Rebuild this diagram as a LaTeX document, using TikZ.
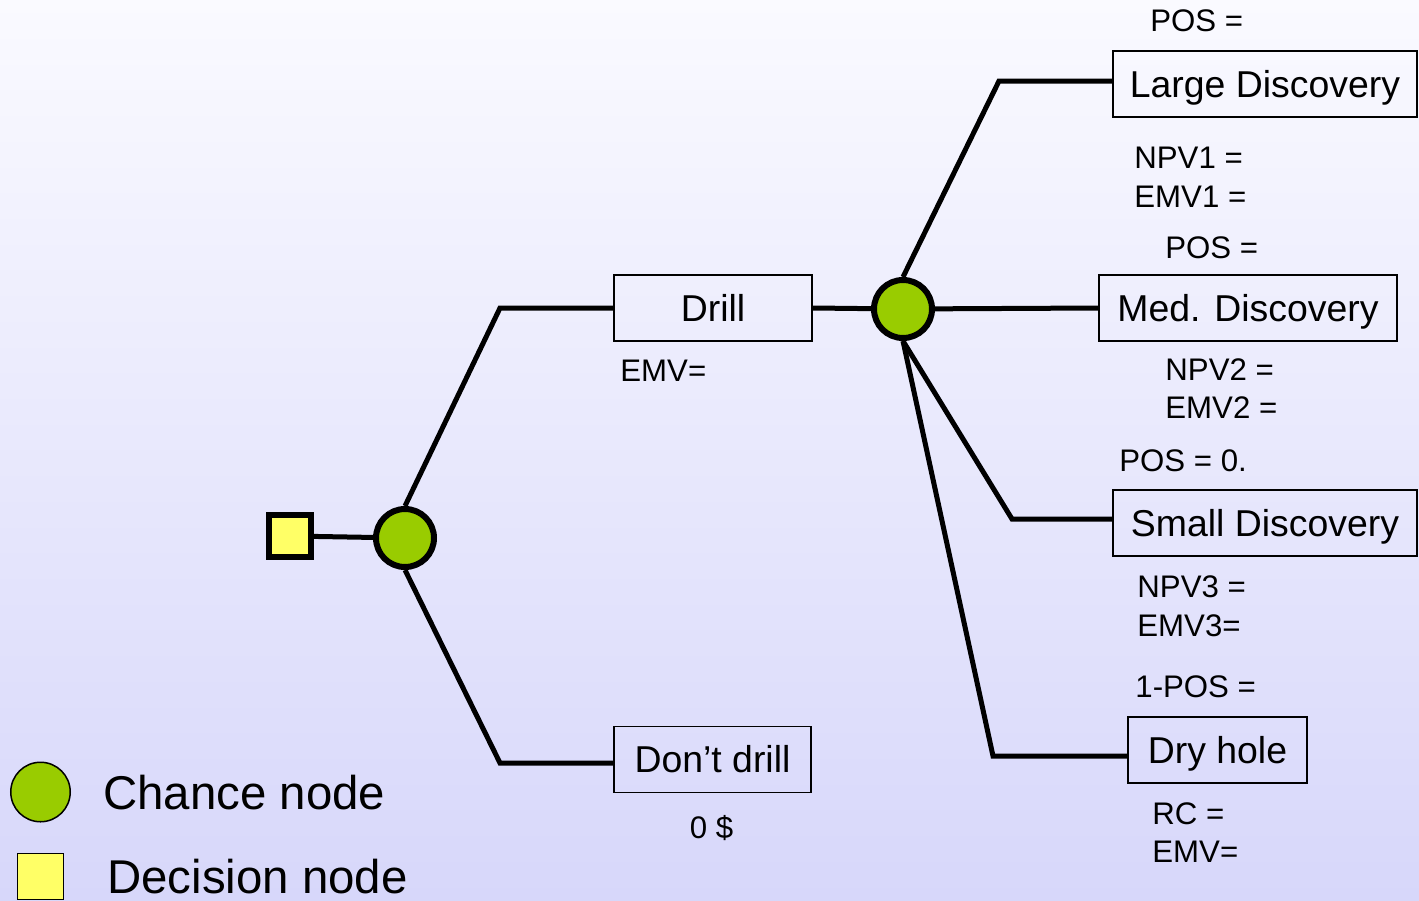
\documentclass[tikz,border=0pt]{standalone}
\usepackage{fontspec}
\setmainfont{Liberation Sans}
\definecolor{chancegreen}{HTML}{99CC00}
\definecolor{decyellow}{HTML}{FFFF66}
\definecolor{bgtop}{RGB}{250,250,255}
\definecolor{bgbottom}{RGB}{215,215,250}
\begin{document}
\begin{tikzpicture}[x=0.5pt,y=-0.5pt,
  branch/.style={line width=2.5pt},
  chance/.style={circle, draw, line width=3pt, fill=chancegreen, minimum size=29pt, inner sep=0pt},
  decision/.style={rectangle, draw, line width=3pt, fill=decyellow, minimum size=21pt, inner sep=0pt},
  outcome/.style={rectangle, draw, line width=0.75pt, minimum height=33pt, inner sep=0pt,
    font=\fontsize{18.7}{20}\selectfont, text height=13.4pt, text depth=0pt},
  val/.style={anchor=west, inner sep=0pt, font=\fontsize{15.6}{18}\selectfont,
    text height=11.2pt, text depth=0pt},
  legendtext/.style={anchor=west, inner sep=0pt, font=\fontsize{23.7}{26}\selectfont,
    text height=17pt, text depth=0pt},
]
% background
\shade[top color=bgtop, bottom color=bgbottom] (0pt,0pt) rectangle (709.5pt,-450pt);
\useasboundingbox (0,0) rectangle (1419,900);

% decision and chance nodes
\node[decision] (d0) at (290,536) {};
\node[chance] (c1) at (405,538) {};
\node[chance] (c2) at (903,309) {};

% alternative boxes
\node[outcome, minimum width=99pt] (drill) at (713,308) {Drill};
\node[outcome, minimum width=98.5pt] (nodrill) at (712.5,759.5) {Don’t drill};

% outcome boxes
\node[outcome, minimum width=152pt] (large) at (1265,84) {Large Discovery};
\node[outcome, minimum width=149pt] (med) at (1248,308) {Med. Discovery};
\node[outcome, minimum width=152pt] (small) at (1265,523) {Small Discovery};
\node[outcome, minimum width=89.5pt] (dry) at (1217.5,750) {Dry hole};

% bend points of the branches
\coordinate (kd) at (500,308);
\coordinate (kn) at (500,763);
\coordinate (kl) at (999,81);
\coordinate (ks) at (1012,519);
\coordinate (kh) at (993,756);

% branches
\draw[branch] (d0) -- (c1);
\draw[branch] (c1.north) -- (kd) -- (kd -| drill.west);
\draw[branch] (c1.south) -- (kn) -- (kn -| nodrill.west);
\draw[branch] (drill.east) -- (c2);
\draw[branch] (c2.north) -- (kl) -- (kl -| large.west);
\draw[branch] (c2) -- (med.west);
\draw[branch] (c2.south) -- (ks) -- (ks -| small.west);
\draw[branch] (c2.south) -- (kh) -- (kh -| dry.west);

% values
\node[val] (emvd) at (620,370) {EMV=};
\node[val, anchor=center] (zero) at (711.5,827) {0 \$};
\node[val] (pos1) at (1150,20) {POS =};
\node[val] (npv1) at (1134,157) {NPV1 =};
\node[val] (emv1) at (1134,196) {EMV1 =};
\node[val] (pos2) at (1165,247) {POS =};
\node[val] (npv2) at (1165,369) {NPV2 =};
\node[val] (emv2) at (1165,407) {EMV2 =};
\node[val] (pos3) at (1119,460) {POS = 0.};
\node[val] (npv3) at (1137,586) {NPV3 =};
\node[val] (emv3) at (1137,625) {EMV3=};
\node[val] (pos4) at (1135,686) {1-POS =};
\node[val] (rc) at (1152,813) {RC =};
\node[val] (emv4) at (1152,851) {EMV=};

% legend
\node[circle, draw, line width=0.75pt, fill=chancegreen, minimum size=29.75pt, inner sep=0pt] (legc) at (40.5,792) {};
\node[legendtext] (legct) at (103,792) {Chance node};
\node[rectangle, draw, line width=0.75pt, fill=decyellow, minimum size=23pt, inner sep=0pt] (legd) at (40.5,876.5) {};
\node[legendtext] (legdt) at (107,876) {Decision node};
\end{tikzpicture}
\end{document}
